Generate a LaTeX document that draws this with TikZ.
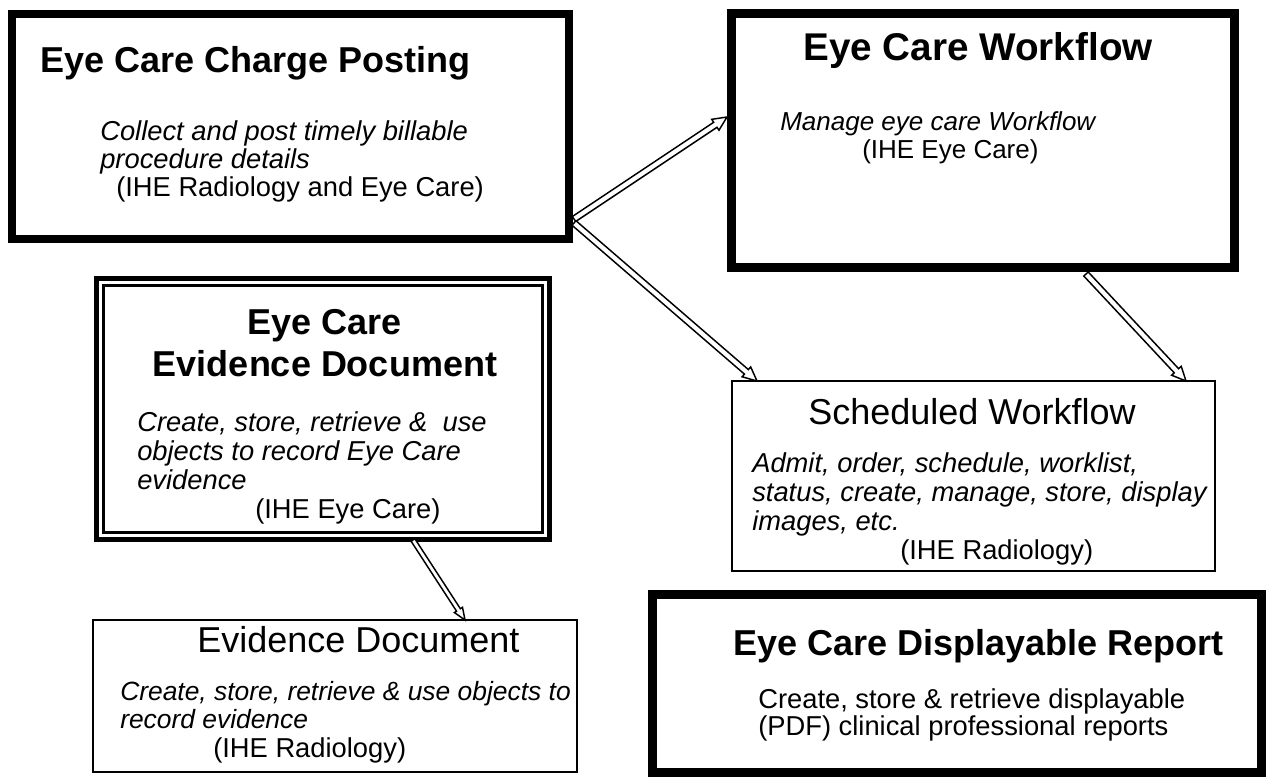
\documentclass[tikz,border=0pt]{standalone}
\usepackage{fontspec}
\setmainfont{Liberation Sans}
\usetikzlibrary{calc}
\tikzset{
  box/.style={draw, outer sep=0pt, inner sep=0pt, line join=miter},
  thickbox/.style={box, line width=6pt},
  heavybox/.style={box, line width=6.75pt},
  thinbox/.style={box, line width=1.1pt},
  ttl/.style={anchor=base west, inner sep=0pt, font=\fontsize{27}{32}\selectfont\bfseries},
  sub/.style={anchor=base west, inner sep=0pt, font=\fontsize{27}{32}\selectfont},
  body/.style={anchor=base west, inner sep=0pt, font=\fontsize{20.5}{24}\selectfont},
  ibody/.style={anchor=base west, inner sep=0pt, font=\fontsize{20.5}{24}\selectfont\itshape},
  harrow/.style={fill=white, draw=black, line width=1.1pt, line join=miter},
}
\newcommand{\hollowarrow}[5]{%
  \path ($(#2)!#5!(#1)$) coordinate (hb);
  \filldraw[harrow] ($(#1)!#3!90:(#2)$) -- ($(hb)!#3!90:(#2)$) -- ($(hb)!#4!90:(#2)$) -- (#2)
    -- ($(hb)!#4!-90:(#2)$) -- ($(hb)!#3!-90:(#2)$) -- ($(#1)!#3!-90:(#2)$) -- cycle;
}
\begin{document}
\begin{tikzpicture}[x=0.75pt,y=-0.75pt]
\useasboundingbox (0,0) rectangle (1270,776);
\fill[white] (0,0) rectangle (1270,776);

% boxes
\node[thickbox, minimum width=417.75pt, minimum height=168.75pt] (cp) at (290.5,126.5) {};
\node[heavybox, minimum width=377.25pt, minimum height=190.5pt] (wf) at (982.5,140) {};
\node[box, line width=3.75pt, minimum width=339.75pt, minimum height=195.75pt] (ev) at (322.5,408.5) {};
\draw[line width=2.25pt, line join=miter] ($(ev.north west)+(7,7)$) rectangle ($(ev.south east)+(-7,-7)$);
\node[thinbox, minimum width=362.25pt, minimum height=142.5pt] (sw) at (973.5,476) {};
\node[heavybox, minimum width=456.75pt, minimum height=133.5pt] (dr) at (956.5,683) {};
\node[thinbox, minimum width=363pt, minimum height=114pt] (ed) at (335,696) {};

% texts box 1
\node[ttl] (cp-t) at (40,72) {Eye Care Charge Posting};
\node[ibody] (cp-1) at (100,140) {Collect and post timely billable};
\node[ibody] (cp-2) at (100,168) {procedure details};
\node[body] (cp-3) at (116,196) {(IHE Radiology and Eye Care)};
% box 2
\node[ttl, anchor=base, font=\fontsize{29}{34}\selectfont\bfseries] (wf-t) at (978,60) {Eye Care Workflow};
\node[ibody, font=\fontsize{19.5}{23}\selectfont\itshape] (wf-1) at (780,130) {Manage eye care Workflow};
\node[body, font=\fontsize{19.5}{23}\selectfont] (wf-2) at (862,158) {(IHE Eye Care)};
% box 3
\node[ttl, anchor=base] (ev-t1) at (325,334) {Eye Care};
\node[ttl, anchor=base] (ev-t2) at (325,376) {Evidence Document};
\node[ibody] (ev-1) at (137,431) {Create, store, retrieve \&~ use};
\node[ibody] (ev-2) at (137,460) {objects to record Eye Care};
\node[ibody] (ev-3) at (137,489) {evidence};
\node[body] (ev-4) at (255,518) {(IHE Eye Care)};
% box 4
\node[sub] (sw-t) at (808,424) {Scheduled Workflow};
\node[ibody] (sw-1) at (752,472) {Admit, order, schedule, worklist,};
\node[ibody] (sw-2) at (752,501) {status, create, manage, store, display};
\node[ibody] (sw-3) at (752,530) {images, etc.};
\node[body] (sw-4) at (900,559) {(IHE Radiology)};
% box 5
\node[ttl] (dr-t) at (733,655) {Eye Care Displayable Report};
\node[body] (dr-1) at (758,708) {Create, store \& retrieve displayable};
\node[body] (dr-2) at (758,735) {(PDF) clinical professional reports};
% box 6
\node[sub] (ed-t) at (197,652) {Evidence Document};
\node[ibody, font=\fontsize{19.8}{23}\selectfont\itshape] (ed-1) at (120,700) {Create, store, retrieve \& use objects to};
\node[ibody, font=\fontsize{19.8}{23}\selectfont\itshape] (ed-2) at (120,728) {record evidence};
\node[body] (ed-3) at (213,757) {(IHE Radiology)};

% arrows
\coordinate (a1s) at (574,219);
\coordinate (a1e) at (727,117);
\coordinate (a2s) at (574,223);
\coordinate (a2e) at (757,381);
\coordinate (a3s) at (1086,274);
\coordinate (a3e) at (1186,381);
\coordinate (a4s) at (413,540);
\coordinate (a4e) at (465,620);
\hollowarrow{a1s}{a1e}{2.25pt}{4.9pt}{10.5pt}
\hollowarrow{a2s}{a2e}{2.25pt}{4.9pt}{10.5pt}
\hollowarrow{a3s}{a3e}{2.25pt}{4.9pt}{10.5pt}
\hollowarrow{a4s}{a4e}{1.7pt}{3.6pt}{9pt}
\end{tikzpicture}
\end{document}
